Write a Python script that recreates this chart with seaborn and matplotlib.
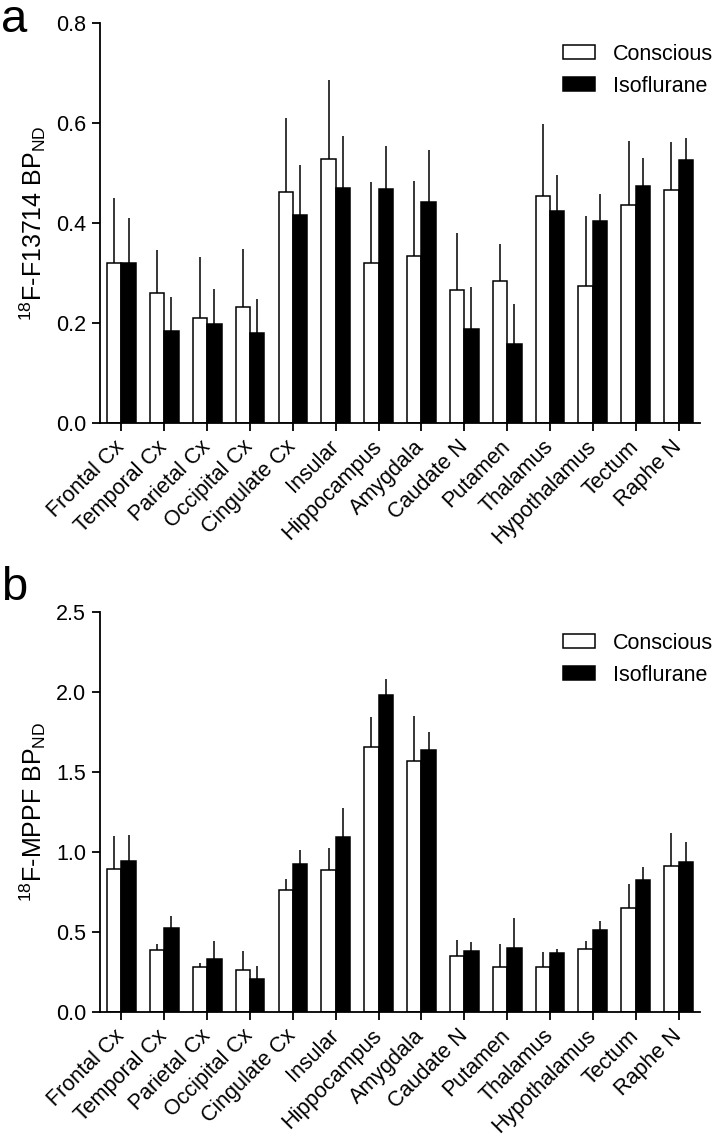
import numpy as np
import pandas as pd
import matplotlib
matplotlib.use("Agg")
import matplotlib.pyplot as plt
import seaborn as sns

regions = ["Frontal Cx", "Temporal Cx", "Parietal Cx", "Occipital Cx",
           "Cingulate Cx", "Insular", "Hippocampus", "Amygdala", "Caudate N",
           "Putamen", "Thalamus", "Hypothalamus", "Tectum", "Raphe N"]
groups = ["Conscious", "Isoflurane"]

# panel a: 18F-F13714
f13714_conscious = [0.320, 0.260, 0.211, 0.233, 0.462, 0.528, 0.320,
                    0.335, 0.267, 0.285, 0.454, 0.275, 0.436, 0.466]
f13714_conscious_sd = [0.130, 0.085, 0.122, 0.114, 0.148, 0.159, 0.163,
                       0.149, 0.113, 0.074, 0.144, 0.138, 0.128, 0.096]
f13714_iso = [0.321, 0.185, 0.199, 0.181, 0.416, 0.470, 0.468,
              0.442, 0.189, 0.159, 0.424, 0.404, 0.474, 0.526]
f13714_iso_sd = [0.089, 0.068, 0.070, 0.068, 0.100, 0.104, 0.086,
                 0.104, 0.084, 0.080, 0.072, 0.054, 0.056, 0.044]

# panel b: 18F-MPPF
mppf_conscious = [0.892, 0.387, 0.283, 0.260, 0.762, 0.890, 1.656,
                  1.567, 0.352, 0.281, 0.283, 0.394, 0.648, 0.915]
mppf_conscious_sd = [0.210, 0.036, 0.021, 0.123, 0.071, 0.137, 0.190,
                     0.283, 0.096, 0.142, 0.090, 0.048, 0.154, 0.206]
mppf_iso = [0.944, 0.527, 0.333, 0.204, 0.927, 1.092, 1.981,
            1.635, 0.379, 0.402, 0.367, 0.515, 0.823, 0.940]
mppf_iso_sd = [0.164, 0.075, 0.111, 0.081, 0.083, 0.181, 0.098,
               0.117, 0.056, 0.188, 0.029, 0.054, 0.081, 0.125]

sns.set_style("ticks")
plt.rcParams["font.family"] = ["Liberation Sans", "DejaVu Sans"]
plt.rcParams["mathtext.fontset"] = "custom"
plt.rcParams["mathtext.rm"] = "Liberation Sans"
plt.rcParams["mathtext.it"] = "Liberation Sans:italic"
plt.rcParams["mathtext.bf"] = "Liberation Sans:bold"
for key in ["text.color", "axes.labelcolor", "axes.edgecolor",
            "xtick.color", "ytick.color"]:
    plt.rcParams[key] = "black"
plt.rcParams["axes.linewidth"] = 1.3
plt.rcParams["xtick.major.width"] = 1.3
plt.rcParams["ytick.major.width"] = 1.3

fig = plt.figure(figsize=(7.16, 11.39), dpi=100)
ax_a = fig.add_axes([100 / 716, 1 - 423 / 1139, 600 / 716, 400 / 1139])
ax_b = fig.add_axes([100 / 716, 1 - 1012 / 1139, 600 / 716, 400 / 1139])


def draw_panel(ax, cons, cons_sd, iso, iso_sd, ylabel, ymax, yticks):
    df = pd.DataFrame({
        "region": regions * 2,
        "group": [groups[0]] * len(regions) + [groups[1]] * len(regions),
        "value": list(cons) + list(iso),
    })
    sns.barplot(data=df, x="region", y="value", hue="group", order=regions,
                hue_order=groups, palette={"Conscious": "white", "Isoflurane": "black"},
                edgecolor="black", linewidth=1.1, width=0.67, errorbar=None, ax=ax)

    # one-sided error bars (upwards only)
    for cont, vals, errs in zip(ax.containers, [cons, iso], [cons_sd, iso_sd]):
        xs = [b.get_x() + b.get_width() / 2 for b in cont]
        ax.errorbar(xs, vals, yerr=[np.zeros(len(errs)), errs], fmt="none",
                    ecolor="black", elinewidth=1.1, capsize=0, zorder=1)

    ax.set_xlim(-0.5, len(regions) - 0.5)
    ax.set_ylim(0, ymax)
    ax.set_yticks(yticks)
    ax.set_yticklabels(["{:.1f}".format(t) for t in yticks])
    ax.tick_params(axis="both", direction="out", length=6, labelsize=15.5, pad=4)
    ax.set_xticks(range(len(regions)))
    ax.set_xticklabels(regions, rotation=45, ha="right", va="center",
                       rotation_mode="anchor")
    ax.tick_params(axis="x", pad=9)
    ax.set_xlabel("")
    ax.set_ylabel(ylabel, fontsize=18, labelpad=6)
    sns.despine(ax=ax)

    ax.legend(loc="upper left", bbox_to_anchor=(0.772, 0.948), frameon=False,
              fontsize=15.5, handlelength=1.5, handleheight=0.6,
              handletextpad=0.8, labelspacing=0.5, borderpad=0,
              borderaxespad=0)


draw_panel(ax_a, f13714_conscious, f13714_conscious_sd, f13714_iso, f13714_iso_sd,
           r"$^{18}$F-F13714 BP$_{\mathrm{ND}}$", 0.8,
           [0.0, 0.2, 0.4, 0.6, 0.8])
draw_panel(ax_b, mppf_conscious, mppf_conscious_sd, mppf_iso, mppf_iso_sd,
           r"$^{18}$F-MPPF BP$_{\mathrm{ND}}$", 2.5,
           [0.0, 0.5, 1.0, 1.5, 2.0, 2.5])

fig.text(0.002, 1 - 32 / 1139, "a", fontsize=34)
fig.text(0.002, 1 - 600 / 1139, "b", fontsize=34)

fig.savefig("out.png", dpi=100)
